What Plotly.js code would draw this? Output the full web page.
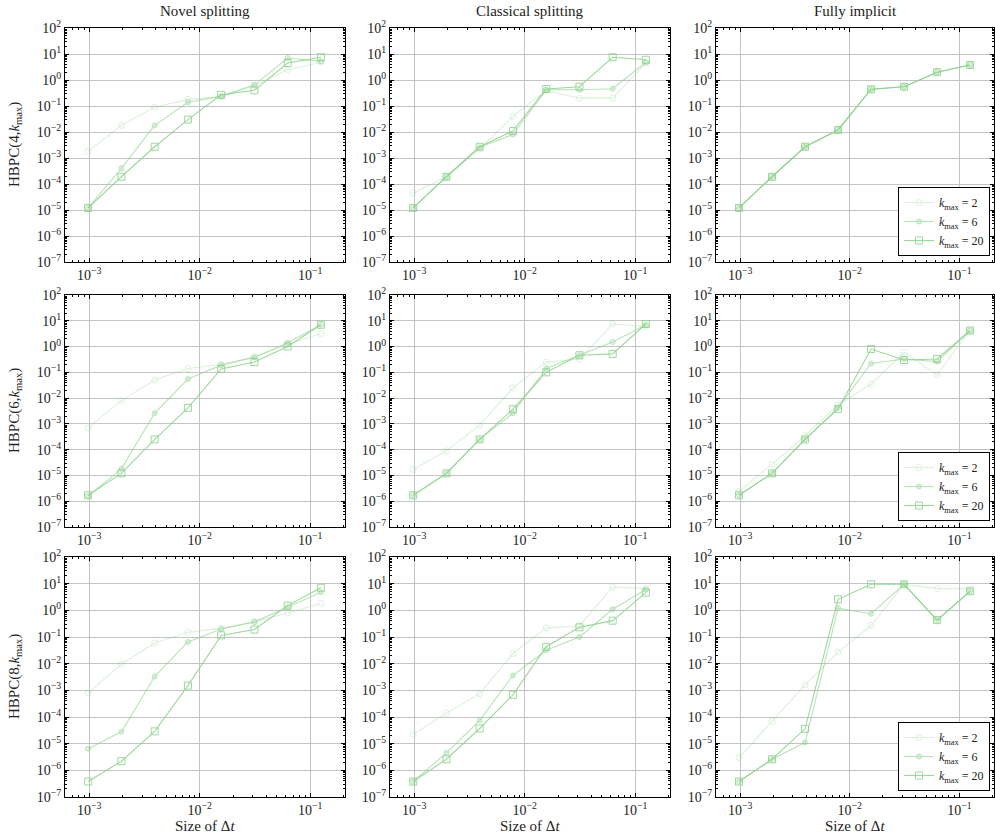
<!DOCTYPE html>
<html>
<head>
<meta charset="utf-8">
<script src="https://cdn.plot.ly/plotly-3.0.1.min.js"></script>
<style>html,body{margin:0;padding:0;background:#fff}#plot{width:995px;height:836px}</style>
</head>
<body>
<div id="plot"></div>
<script>
// ---- data ----
const dt = [0.0009765625, 0.001953125, 0.00390625, 0.0078125, 0.015625, 0.03125, 0.0625, 0.125];

const kmaxLabels = ["2", "6", "20"];
const columnTitles = ["Novel splitting", "Classical splitting", "Fully implicit"];
const rowOrders = ["4", "6", "8"];

// HBPC(4, kmax)
const novel4_k2  = [1.8e-3, 1.8e-2, 9e-2, 1.8e-1, 2.2e-1, 6e-1, 2.5, 4.8];
const novel4_k6  = [1.2e-5, 4e-4, 1.8e-2, 1.4e-1, 2.4e-1, 6.5e-1, 7, 5.2];
const novel4_k20 = [1.2e-5, 1.9e-4, 2.7e-3, 3e-2, 2.7e-1, 4e-1, 4.5, 7.5];
const classical4_k2  = [4.5e-5, 1.9e-4, 2.2e-3, 4e-2, 4e-1, 2e-1, 2e-1, 4.5];
const classical4_k6  = [1.2e-5, 1.9e-4, 2.6e-3, 8e-3, 4.2e-1, 4.2e-1, 4.6e-1, 4.8];
const classical4_k20 = [1.2e-5, 1.9e-4, 2.7e-3, 1.1e-2, 4.5e-1, 5.5e-1, 7.5, 6];
const implicit4_k2  = [1.2e-5, 1.9e-4, 2.7e-3, 1.2e-2, 4.4e-1, 5.5e-1, 2.0, 3.8];
const implicit4_k6  = [1.2e-5, 1.9e-4, 2.7e-3, 1.2e-2, 4.4e-1, 5.5e-1, 2.0, 3.8];
const implicit4_k20 = [1.2e-5, 1.9e-4, 2.7e-3, 1.2e-2, 4.4e-1, 5.5e-1, 2.0, 3.8];

// HBPC(6, kmax)
const novel6_k2  = [7e-4, 8e-3, 5e-2, 1.4e-1, 2e-1, 4e-1, 1.2, 3.2];
const novel6_k6  = [1.6e-6, 1.8e-5, 2.6e-3, 5.5e-2, 1.9e-1, 3.8e-1, 1.4, 7];
const novel6_k20 = [1.7e-6, 1.2e-5, 2.5e-4, 4.2e-3, 1.35e-1, 2.5e-1, 1.0, 7];
const classical6_k2  = [1.7e-5, 9e-5, 9e-4, 2.5e-2, 2.5e-1, 3.2e-1, 7.5, 6];
const classical6_k6  = [1.7e-6, 1.2e-5, 2.5e-4, 2.6e-3, 1.4e-1, 4.5e-1, 1.5, 7];
const classical6_k20 = [1.7e-6, 1.2e-5, 2.5e-4, 3.7e-3, 1.0e-1, 4.6e-1, 5.2e-1, 7.5];
const implicit6_k2  = [2.4e-6, 2.7e-5, 3.5e-4, 5.5e-3, 3.5e-2, 6e-1, 8e-2, 4.2];
const implicit6_k6  = [1.7e-6, 1.2e-5, 2.5e-4, 4.2e-3, 2.2e-1, 3.3e-1, 2.6e-1, 4.2];
const implicit6_k20 = [1.7e-6, 1.2e-5, 2.5e-4, 3.8e-3, 8e-1, 3e-1, 3.3e-1, 4.2];

// HBPC(8, kmax)
const novel8_k2  = [8e-4, 9.5e-3, 6e-2, 1.5e-1, 2.1e-1, 3.7e-1, 8e-1, 1.8];
const novel8_k6  = [6.5e-6, 2.8e-5, 3.3e-3, 6.5e-2, 2.0e-1, 3.7e-1, 1.3, 4.8];
const novel8_k20 = [3.8e-7, 2.2e-6, 2.9e-5, 1.5e-3, 1.15e-1, 1.9e-1, 1.5, 7];
const classical8_k2  = [2.2e-5, 1.4e-4, 7.5e-4, 2.4e-2, 2.2e-1, 2.6e-1, 7.5, 6.5];
const classical8_k6  = [3.8e-7, 4.5e-6, 7.5e-5, 3.6e-3, 3.2e-2, 1.0e-1, 1.1, 6];
const classical8_k20 = [3.8e-7, 2.6e-6, 3.7e-5, 6.8e-4, 4.3e-2, 2.3e-1, 4.1e-1, 4.6];
const implicit8_k2  = [3e-6, 7e-5, 1.6e-3, 2.7e-2, 2.7e-1, 9.5, 6.5, 6.5];
const implicit8_k6  = [3.8e-7, 2.6e-6, 1.1e-5, 1.2, 7.5e-1, 9.5, 4.3e-1, 5.2];
const implicit8_k20 = [3.8e-7, 2.6e-6, 3.6e-5, 2.6, 9.5, 9.5, 4.3e-1, 5.2];

// tick labels
const yTickVals = [1e-7, 1e-6, 1e-5, 1e-4, 1e-3, 1e-2, 1e-1, 1e0, 1e1, 1e2];
const yTickText = ["10<sup>−7</sup>", "10<sup>−6</sup>", "10<sup>−5</sup>", "10<sup>−4</sup>", "10<sup>−3</sup>",
                   "10<sup>−2</sup>", "10<sup>−1</sup>", "10<sup>0</sup>", "10<sup>1</sup>", "10<sup>2</sup>"];
const xTickVals = [1e-3, 1e-2, 1e-1];
const xTickText = ["10<sup>−3</sup>", "10<sup>−2</sup>", "10<sup>−1</sup>"];

const grid = [
  [[novel4_k2, novel4_k6, novel4_k20], [classical4_k2, classical4_k6, classical4_k20], [implicit4_k2, implicit4_k6, implicit4_k20]],
  [[novel6_k2, novel6_k6, novel6_k20], [classical6_k2, classical6_k6, classical6_k20], [implicit6_k2, implicit6_k6, implicit6_k20]],
  [[novel8_k2, novel8_k6, novel8_k20], [classical8_k2, classical8_k6, classical8_k20], [implicit8_k2, implicit8_k6, implicit8_k20]]
];

// ---- styling ----
const W = 995, H = 836;
const colPx = [[65, 345], [390, 670], [716, 994]];
const rowPx = [[28, 262], [295, 527], [557, 797]];
const FONT = "Liberation Serif, DejaVu Serif, serif";
const seriesStyle = [
  {color: "rgb(140,210,140)", opacity: 0.3, symbol: "circle-open", size: 6, fill: null},
  {color: "rgb(140,210,140)", opacity: 0.6, symbol: "circle", size: 5, fill: "rgba(140,210,140,0.45)"},
  {color: "rgb(140,210,140)", opacity: 0.85, symbol: "square-open", size: 7, fill: null}
];

function minorVals(lo, hi) {
  const out = [];
  for (let p = lo; p < hi; p++) for (let m = 2; m <= 9; m++) out.push(m * Math.pow(10, p));
  return out;
}
const yMinor = minorVals(-7, 2);
const xMinor = minorVals(-4, 0);

const traces = [];
const layout = {
  width: W, height: H,
  margin: {l: 0, r: 0, t: 0, b: 0},
  paper_bgcolor: "#fff", plot_bgcolor: "#fff",
  font: {family: FONT, size: 14, color: "#222"},
  showlegend: true,
  annotations: []
};

const legendNames = ["legend", "legend2", "legend3"];

for (let r = 0; r < 3; r++) {
  for (let c = 0; c < 3; c++) {
    const n = r * 3 + c + 1;
    const xa = "xaxis" + (n === 1 ? "" : n);
    const ya = "yaxis" + (n === 1 ? "" : n);
    const xid = "x" + (n === 1 ? "" : n);
    const yid = "y" + (n === 1 ? "" : n);
    layout[xa] = {
      type: "log", domain: [colPx[c][0] / W, colPx[c][1] / W],
      range: [-3.22, -0.685], anchor: yid,
      tickvals: xTickVals, ticktext: xTickText,
      ticks: "inside", ticklen: 4, tickcolor: "#000",
      showline: true, linecolor: "#000", linewidth: 1, mirror: "allticks",
      showgrid: true, gridcolor: "#c4c4c4", gridwidth: 1,
      tickfont: {family: FONT, size: 14, color: "#222"},
      ticklabelstandoff: 0,
      minor: {tickvals: xMinor, ticks: "inside", ticklen: 2, tickcolor: "#000", showgrid: false},
      fixedrange: true
    };
    layout[ya] = {
      type: "log", domain: [1 - rowPx[r][1] / H, 1 - rowPx[r][0] / H],
      range: [-7, 2], anchor: xid,
      tickvals: yTickVals, ticktext: yTickText,
      ticks: "inside", ticklen: 4, tickcolor: "#000",
      showline: true, linecolor: "#000", linewidth: 1, mirror: "allticks",
      showgrid: true, gridcolor: "#c4c4c4", gridwidth: 1,
      tickfont: {family: FONT, size: 14, color: "#222"},
      minor: {tickvals: yMinor, ticks: "inside", ticklen: 2, tickcolor: "#000", showgrid: false},
      fixedrange: true
    };
    for (let k = 0; k < 3; k++) {
      const s = seriesStyle[k];
      traces.push({
        type: "scatter", mode: "lines+markers",
        x: dt, y: grid[r][c][k],
        xaxis: xid, yaxis: yid,
        name: "<i>k</i><sub>max</sub> = " + kmaxLabels[k],
        opacity: s.opacity,
        line: {color: s.color, width: 1.1},
        marker: {symbol: s.symbol, size: s.size, color: s.fill || s.color,
                 line: {color: s.color, width: 1}},
        showlegend: c === 2,
        legend: legendNames[r],
        hoverinfo: "x+y"
      });
    }
  }
  // legend for this row
  layout[legendNames[r]] = {
    x: 990 / W, y: 1 - (rowPx[r][1] - 6) / H, xanchor: "right", yanchor: "bottom",
    bgcolor: "#fff", bordercolor: "#000", borderwidth: 1,
    font: {family: FONT, size: 12, color: "#222"},
    tracegroupgap: 0, itemwidth: 30
  };
  // y-axis title
  layout.annotations.push({
    xref: "paper", yref: "paper",
    x: 15 / W, y: 1 - (rowPx[r][0] + rowPx[r][1]) / 2 / H,
    text: "HBPC(" + rowOrders[r] + ",<i>k</i><sub>max</sub>)",
    textangle: -90, showarrow: false, xanchor: "center", yanchor: "middle",
    font: {family: FONT, size: 15, color: "#222"}
  });
}

for (let c = 0; c < 3; c++) {
  const cx = (colPx[c][0] + colPx[c][1]) / 2 / W;
  layout.annotations.push({
    xref: "paper", yref: "paper", x: cx, y: 1 - 11 / H,
    text: columnTitles[c], showarrow: false, xanchor: "center", yanchor: "middle",
    font: {family: FONT, size: 15, color: "#222"}
  });
  layout.annotations.push({
    xref: "paper", yref: "paper", x: cx, y: 1 - 826 / H,
    text: "Size of Δ<i>t</i>", showarrow: false, xanchor: "center", yanchor: "middle",
    font: {family: FONT, size: 15, color: "#222"}
  });
}

Plotly.newPlot("plot", traces, layout, {staticPlot: true, displayModeBar: false});
</script>
</body>
</html>
